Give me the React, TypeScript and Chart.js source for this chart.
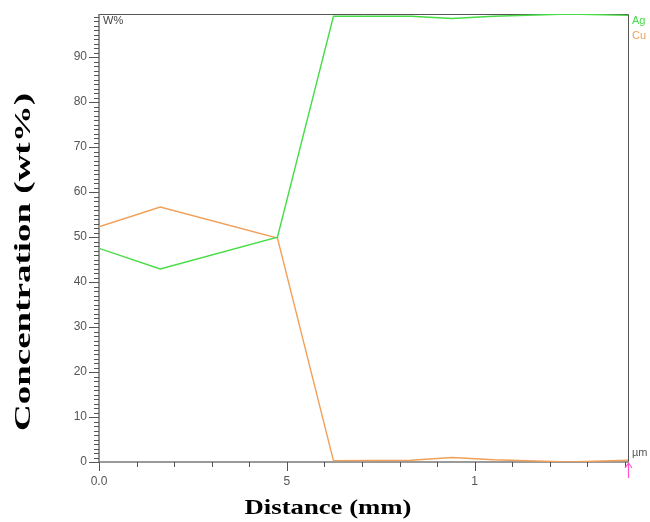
import React, { useEffect, useRef } from 'react';
import { Chart, registerables } from 'chart.js';

Chart.register(...registerables);

// ---- data ----
const distance = [0, 0.163, 0.475, 0.624, 0.83, 0.94, 1.05, 1.25, 1.408];
const agValues = [47.5, 42.9, 50.0, 99.1, 99.1, 98.6, 99.1, 99.6, 99.3];
const cuValues = [52.3, 56.7, 49.8, 0.3, 0.4, 1.0, 0.5, 0.0, 0.4];

const seriesNames = ['Ag', 'Cu'];
const seriesColors = ['#46dc46', '#f0a058'];

const xMin = 0;
const xMax = 1.408;
const yMin = 0;
const yMax = 99.6;

const xLabelValues = [0, 0.5, 1];
const xLabelTexts = ['0.0', '5', '1'];
const xMinorStep = 0.1;
const yLabelValues = [0, 10, 20, 30, 40, 50, 60, 70, 80, 90];
const yMinorStep = 1;

const yTitle = 'Concentration (wt%)';
const xTitle = 'Distance (mm)';
const unitY = 'W%';
const unitX = 'µm';

const W = 650;
const H = 522;

const decorPlugin = {
  id: 'decor',
  beforeDatasetsDraw(chart: any) {
    const { ctx, chartArea } = chart;
    const { left, right, top, bottom } = chartArea;
    const xs = chart.scales.x;
    const ys = chart.scales.y;
    ctx.save();
    // top + right frame
    ctx.strokeStyle = '#555';
    ctx.lineWidth = 1;
    ctx.beginPath();
    ctx.moveTo(left, top + 0.5);
    ctx.lineTo(right + 0.5, top + 0.5);
    ctx.lineTo(right + 0.5, bottom);
    ctx.stroke();
    // axes
    ctx.strokeStyle = '#7a7a7a';
    ctx.lineWidth = 1.6;
    ctx.beginPath();
    ctx.moveTo(left, top);
    ctx.lineTo(left, bottom);
    ctx.lineTo(right + 1, bottom);
    ctx.stroke();
    // y ticks
    ctx.lineWidth = 1;
    ctx.strokeStyle = '#555';
    ctx.beginPath();
    for (let v = yMin; v <= yMax + 1e-6; v += yMinorStep) {
      const py = Math.round(ys.getPixelForValue(v)) + 0.5;
      const major = yLabelValues.some((m) => Math.abs(m - v) < 1e-6);
      ctx.moveTo(left - (major ? 10 : 5), py);
      ctx.lineTo(left, py);
    }
    // x ticks
    for (let i = 0; i * xMinorStep <= xMax + 1e-6; i++) {
      const v = i * xMinorStep;
      const px = Math.round(xs.getPixelForValue(v)) + 0.5;
      const major = xLabelValues.some((m) => Math.abs(m - v) < 1e-6);
      ctx.moveTo(px, bottom);
      ctx.lineTo(px, bottom + (major ? 9 : 5));
    }
    ctx.stroke();
    ctx.restore();
  },
  afterDraw(chart: any) {
    const { ctx, chartArea } = chart;
    const { left, right, top, bottom } = chartArea;
    ctx.save();
    ctx.font = '11px "Liberation Sans", Arial, sans-serif';
    ctx.textBaseline = 'middle';
    ctx.textAlign = 'left';
    ctx.fillStyle = '#444';
    ctx.fillText(unitY, left + 4, top + 7);
    ctx.fillStyle = '#555';
    ctx.fillText(unitX, right + 4, bottom - 9);
    ctx.fillStyle = seriesColors[0];
    ctx.fillText(seriesNames[0], right + 4, top + 7);
    ctx.fillStyle = seriesColors[1];
    ctx.fillText(seriesNames[1], right + 4, top + 22);
    // pink arrow
    ctx.strokeStyle = '#ff55cc';
    ctx.lineWidth = 1.2;
    ctx.beginPath();
    ctx.moveTo(right + 0.5, bottom + 16);
    ctx.lineTo(right + 0.5, bottom + 1);
    ctx.moveTo(right - 3, bottom + 6);
    ctx.lineTo(right + 0.5, bottom + 1);
    ctx.lineTo(right + 4, bottom + 6);
    ctx.stroke();

    // axis titles (stretched along their length like the reference)
    ctx.fillStyle = '#000';
    ctx.textAlign = 'center';
    ctx.textBaseline = 'middle';
    ctx.font = 'bold 22px "Liberation Serif", "Times New Roman", serif';
    let w = ctx.measureText(xTitle).width;
    ctx.save();
    ctx.translate(328, 508);
    ctx.scale(167 / w, 1);
    ctx.fillText(xTitle, 0, 0);
    ctx.restore();

    ctx.font = 'bold 23px "Liberation Serif", "Times New Roman", serif';
    w = ctx.measureText(yTitle).width;
    ctx.save();
    ctx.translate(24, 262);
    ctx.rotate(-Math.PI / 2);
    ctx.scale(338 / w, 1);
    ctx.fillText(yTitle, 0, 0);
    ctx.restore();
    ctx.restore();
  },
};

export default function App() {
  const ref = useRef<HTMLCanvasElement | null>(null);
  useEffect(() => {
    if (!ref.current) return;
    const mk = (vals: number[]) => distance.map((x, i) => ({ x, y: vals[i] }));
    const chart = new Chart(ref.current, {
      type: 'line',
      data: {
        datasets: [
          {
            label: seriesNames[0],
            data: mk(agValues),
            borderColor: seriesColors[0],
            borderWidth: 1.4,
            pointRadius: 0,
            fill: false,
            tension: 0,
          },
          {
            label: seriesNames[1],
            data: mk(cuValues),
            borderColor: seriesColors[1],
            borderWidth: 1.4,
            pointRadius: 0,
            fill: false,
            tension: 0,
          },
        ],
      },
      options: {
        responsive: false,
        animation: false,
        devicePixelRatio: 1,
        layout: { padding: { left: 0, top: 14, right: 22, bottom: 0 } },
        plugins: { legend: { display: false }, tooltip: { enabled: false } },
        scales: {
          x: {
            type: 'linear',
            min: xMin,
            max: xMax,
            grid: { display: false },
            border: { display: false },
            afterBuildTicks: (s: any) => {
              s.ticks = xLabelValues.map((v) => ({ value: v }));
            },
            afterFit: (s: any) => {
              s.height = 60;
              s.paddingLeft = 0;
              s.paddingRight = 0;
            },
            ticks: {
              autoSkip: false,
              maxRotation: 0,
              padding: 4,
              color: '#555',
              font: { family: '"Liberation Sans", Arial, sans-serif', size: 12 },
              callback: (v: any) => {
                const i = xLabelValues.findIndex((m) => Math.abs(m - Number(v)) < 1e-6);
                return i >= 0 ? xLabelTexts[i] : '';
              },
            },
          },
          y: {
            type: 'linear',
            min: yMin,
            max: yMax,
            grid: { display: false },
            border: { display: false },
            afterBuildTicks: (s: any) => {
              s.ticks = yLabelValues.map((v) => ({ value: v }));
            },
            afterFit: (s: any) => {
              s.width = 99;
              s.paddingTop = 0;
              s.paddingBottom = 0;
            },
            ticks: {
              autoSkip: false,
              padding: 4,
              color: '#555',
              font: { family: '"Liberation Sans", Arial, sans-serif', size: 12 },
              callback: (v: any) => String(v),
            },
          },
        },
      },
      plugins: [decorPlugin],
    });
    return () => chart.destroy();
  }, []);
  return (
    <div style={{ position: 'fixed', left: 0, top: 0, width: W, height: H, background: '#fff' }}>
      <canvas ref={ref} width={W} height={H} style={{ display: 'block', width: W, height: H }} />
    </div>
  );
}
